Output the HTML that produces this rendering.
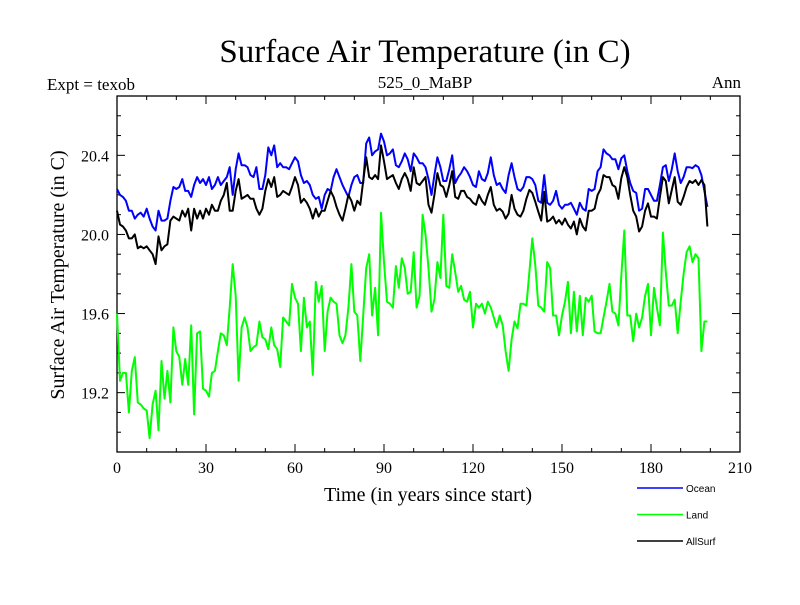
<!DOCTYPE html>
<html><head><meta charset="utf-8"><style>
body{margin:0;background:#fff}
svg text{font-family:"Liberation Serif",serif}
</style></head><body>
<svg id="c" width="800" height="600" xmlns="http://www.w3.org/2000/svg">
<text x="425" y="62" font-size="33" text-anchor="middle">Surface Air Temperature (in C)</text>
<text x="47" y="90" font-size="17">Expt = texob</text>
<text x="425" y="88" font-size="17" text-anchor="middle">525_0_MaBP</text>
<text x="741" y="88" font-size="17" text-anchor="end">Ann</text>
<text transform="translate(64,275) rotate(-90)" font-size="20" text-anchor="middle">Surface Air Temperature (in C)</text>
<text x="428" y="501" font-size="20" text-anchor="middle">Time (in years since start)</text>
<g id="axes"></g><g id="series"></g><g id="legend"></g>
</svg>
<script>
const xTicks=[0,30,60,90,120,150,180,210];
const yTicks=[19.2,19.6,20.0,20.4];
const seriesNames=["Ocean","Land","AllSurf"];
const ocean=[20.23,20.20,20.19,20.17,20.12,20.12,20.08,20.10,20.11,20.09,20.13,20.08,20.04,20.02,20.12,20.07,20.07,20.08,20.17,20.24,20.23,20.24,20.28,20.22,20.22,20.19,20.25,20.29,20.26,20.28,20.25,20.29,20.23,20.25,20.29,20.25,20.27,20.29,20.34,20.20,20.33,20.41,20.35,20.35,20.34,20.30,20.29,20.34,20.23,20.23,20.30,20.44,20.40,20.45,
20.34,20.36,20.34,20.34,20.33,20.36,20.39,20.37,20.30,20.26,20.27,20.25,20.20,20.18,20.19,20.13,20.20,20.23,20.22,20.29,20.33,20.29,20.25,20.22,20.19,20.25,20.29,20.30,20.26,20.26,20.46,20.49,20.40,20.42,20.43,20.51,20.47,20.40,20.41,20.43,20.35,20.34,20.37,20.41,20.38,20.32,20.41,20.39,20.36,
20.36,20.34,20.28,20.20,20.30,20.39,20.34,20.27,20.27,20.33,20.40,20.26,20.29,20.31,20.34,20.32,20.29,20.25,20.24,20.32,20.28,20.27,20.31,20.39,20.30,20.25,20.26,20.23,20.21,20.30,20.36,20.29,20.23,20.22,20.24,20.29,20.29,20.28,20.25,20.17,20.16,20.30,20.16,20.15,20.17,20.22,20.15,20.13,20.15,20.15,20.16,20.13,20.10,
20.16,20.13,20.12,20.23,20.22,20.23,20.32,20.34,20.43,20.41,20.40,20.38,20.38,20.33,20.385,20.40,20.32,20.26,20.22,20.21,20.12,20.13,20.23,20.23,20.20,20.17,20.17,20.25,20.34,20.35,20.27,20.33,20.41,20.32,20.26,20.29,20.34,20.34,20.335,20.35,20.34,20.30,20.22,20.14];
const land=[19.60,19.26,19.30,19.30,19.10,19.31,19.38,19.15,19.14,19.12,19.11,18.97,19.14,19.21,19.01,19.36,19.17,19.31,19.15,19.53,19.41,19.38,19.24,19.37,19.24,19.54,19.09,19.50,19.51,19.22,19.21,19.18,19.30,19.31,19.41,19.50,19.49,19.44,19.63,19.85,19.69,19.26,19.53,19.58,19.53,19.41,19.43,19.44,19.56,19.48,
19.47,19.42,19.53,19.44,19.42,19.33,19.58,19.56,19.54,19.75,19.68,19.65,19.41,19.68,19.53,19.56,19.29,19.76,19.66,19.74,19.41,19.61,19.68,19.66,19.65,19.49,19.45,19.49,19.63,19.85,19.61,19.59,19.36,19.59,19.83,19.90,19.59,19.73,19.49,20.11,19.86,19.66,19.65,19.63,19.84,19.73,19.88,19.83,19.70,19.71,19.91,19.63,19.69,
20.10,20.00,19.83,19.61,19.67,19.86,19.78,20.10,19.74,19.73,19.90,19.81,19.71,19.74,19.67,19.66,19.71,19.53,19.65,19.63,19.65,19.60,19.66,19.63,19.58,19.53,19.59,19.54,19.41,19.31,19.47,19.56,19.525,19.65,19.65,19.64,19.81,19.98,19.845,19.64,19.63,19.61,19.86,19.83,19.59,19.59,19.49,19.59,19.66,19.76,19.50,
19.71,19.51,19.69,19.49,19.68,19.66,19.69,19.51,19.50,19.50,19.58,19.66,19.75,19.61,19.60,19.54,19.79,20.02,19.59,19.59,19.46,19.60,19.53,19.58,19.69,19.75,19.49,19.73,19.63,19.54,20.01,19.81,19.64,19.64,19.67,19.50,19.66,19.80,19.91,19.94,19.86,19.90,19.88,19.41,19.56,19.56];
const allSurf=[20.12,20.05,20.04,20.02,19.98,19.98,20.00,19.93,19.94,19.93,19.94,19.92,19.90,19.85,19.99,19.92,19.94,19.95,20.07,20.09,20.08,20.07,20.12,20.09,20.13,20.02,20.13,20.08,20.12,20.08,20.13,20.10,20.15,20.12,20.12,20.17,20.20,20.26,20.12,20.12,20.22,20.28,20.18,20.19,20.20,20.18,20.18,20.13,20.10,20.13,20.22,20.28,20.24,20.29,
20.19,20.20,20.22,20.21,20.20,20.24,20.29,20.25,20.16,20.18,20.16,20.13,20.08,20.13,20.09,20.12,20.12,20.17,20.22,20.19,20.14,20.10,20.07,20.13,20.20,20.17,20.12,20.17,20.15,20.27,20.39,20.29,20.28,20.30,20.28,20.45,20.37,20.28,20.29,20.30,20.26,20.23,20.28,20.31,20.28,20.22,20.34,20.26,20.25,
20.27,20.29,20.15,20.11,20.20,20.31,20.25,20.24,20.19,20.25,20.32,20.19,20.18,20.22,20.22,20.19,20.18,20.16,20.15,20.20,20.17,20.15,20.20,20.24,20.15,20.12,20.13,20.115,20.08,20.105,20.20,20.13,20.10,20.09,20.12,20.18,20.225,20.21,20.165,20.115,20.07,20.215,20.065,20.073,20.09,20.056,20.073,20.05,20.08,20.05,20.03,20.065,20.00,
20.08,20.04,20.02,20.12,20.12,20.13,20.20,20.23,20.30,20.29,20.29,20.25,20.24,20.18,20.285,20.34,20.29,20.20,20.12,20.09,20.015,20.04,20.12,20.157,20.09,20.09,20.08,20.19,20.29,20.27,20.157,20.225,20.29,20.165,20.15,20.19,20.24,20.27,20.26,20.275,20.25,20.275,20.25,20.04];

const L=117,R=740,T=96,B=452,xmin=0,xmax=210,ymin=18.9,ymax=20.7;
const X=v=>L+(v-xmin)/(xmax-xmin)*(R-L);
const Y=v=>B-(v-ymin)/(ymax-ymin)*(B-T);
const NS="http://www.w3.org/2000/svg";
function mk(tag,attrs,parent,text){const e=document.createElementNS(NS,tag);for(const k in attrs)e.setAttribute(k,attrs[k]);if(text!=null)e.textContent=text;parent.appendChild(e);return e;}
const axes=document.getElementById('axes');
const frame=mk('rect',{x:L,y:T,width:R-L,height:B-T,fill:'none',stroke:'#000','stroke-width':1.3},axes);


for(let t=0;t<=210;t+=10){const maj=t%30===0,len=maj?8:4;
 mk('line',{x1:X(t),x2:X(t),y1:B,y2:B-len,stroke:'#000'},axes);
 mk('line',{x1:X(t),x2:X(t),y1:T,y2:T+len,stroke:'#000'},axes);}
xTicks.forEach(t=>{const e=mk('text',{x:X(t),y:B+21,'font-size':16,'text-anchor':'middle'},axes,String(t));
 
 });
for(let i=0;i<=18;i++){const v=ymin+i*0.1;const maj=Math.abs(((v-19.2)/0.4)-Math.round((v-19.2)/0.4))<1e-6,len=maj?8:4;
 mk('line',{x1:L,x2:L+len,y1:Y(v),y2:Y(v),stroke:'#000'},axes);
 mk('line',{x1:R,x2:R-len,y1:Y(v),y2:Y(v),stroke:'#000'},axes);}
yTicks.forEach(v=>{const e=mk('text',{x:L-8,y:Y(v)+6,'font-size':16,'text-anchor':'end'},axes,v.toFixed(1));
 
 });
const sg=document.getElementById('series');
const colors=["#0000ff","#00ff00","#000000"];
[ocean,land,allSurf].forEach((arr,k)=>{
 const d=arr.map((v,i)=>(i?'L':'M')+X(i).toFixed(1)+','+Y(v).toFixed(1)).join('');
 const p=mk('path',{d:d,fill:'none',stroke:colors[k],'stroke-width':2,'stroke-linejoin':'round'},sg);
 
 });
const lg=document.getElementById('legend');
seriesNames.forEach((n,k)=>{const y=488+k*26.5;
 const g=mk('g',{},lg);
 
 
 mk('line',{x1:637,x2:683,y1:y,y2:y,stroke:colors[k],'stroke-width':1.5},g);
 mk('text',{x:686,y:y+4,'font-size':10,style:'font-family:"Liberation Sans",sans-serif'},g,n);});
</script>
</body></html>
